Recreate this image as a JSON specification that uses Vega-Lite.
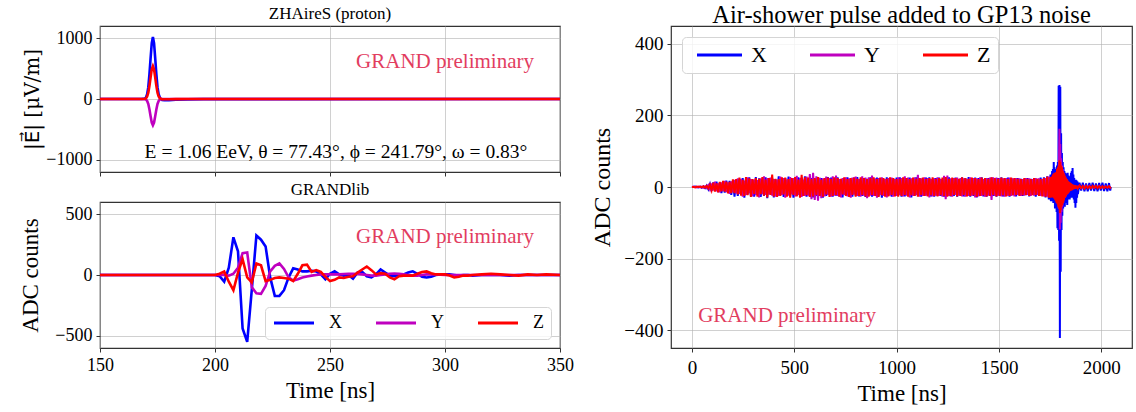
{
"$schema": "https://vega.github.io/schema/vega-lite/v6.json",
"padding": {"left": 18, "top": 2, "right": 0, "bottom": 0},
"background": "white",
"config": {
  "font": "Liberation Serif",
  "view": {"stroke": "#333333", "strokeWidth": 1.2},
  "axis": {"labelFont": "Liberation Serif", "titleFont": "Liberation Serif", "labelFontSize": 18, "titleFontSize": 23, "titleFontWeight": "normal", "labelColor": "#000000", "titleColor": "#000000", "tickColor": "#333333", "tickSize": 4, "domain": false, "gridColor": "#b0b0b0", "gridOpacity": 0.6, "labelPadding": 4, "titlePadding": 5, "format": "d", "labelFlush": false},
  "title": {"font": "Liberation Serif", "fontWeight": "normal", "color": "#000000"},
  "legend": {"labelFont": "Liberation Serif", "labelColor": "#000000", "symbolStrokeWidth": 3, "direction": "horizontal", "columns": 3, "title": null, "strokeColor": "#d5d5d5", "fillColor": "rgba(255,255,255,0.8)", "cornerRadius": 4}
},
"bounds": "full",
"spacing": 14,
"resolve": {"scale": {"color": "independent"}, "legend": {"color": "independent"}},
"hconcat": [
 {
  "bounds": "flush",
  "spacing": 30,
  "resolve": {"scale": {"color": "independent"}, "legend": {"color": "independent"}},
  "vconcat": [
   {
    "width": 460, "height": 146,
    "title": {"text": "ZHAireS (proton)", "fontSize": 17, "offset": 3},
    "layer": [
     {
      "data": {"values": [
       {"t":150,"X":0,"Y":0,"Z":0},{"t":168,"X":0,"Y":0,"Z":0},{"t":169.5,"X":6,"Y":-3,"Z":3},{"t":170,"X":24,"Y":-10,"Z":13},{"t":170.5,"X":78,"Y":-33,"Z":41},{"t":171,"X":194,"Y":-82,"Z":103},{"t":171.5,"X":408,"Y":-172,"Z":216},{"t":172,"X":673,"Y":-284,"Z":356},{"t":172.5,"X":918,"Y":-387,"Z":486},{"t":173,"X":1020,"Y":-430,"Z":540},{"t":173.5,"X":918,"Y":-387,"Z":486},{"t":174,"X":673,"Y":-284,"Z":356},{"t":174.5,"X":408,"Y":-172,"Z":216},{"t":175,"X":194,"Y":-82,"Z":103},{"t":175.5,"X":78,"Y":-33,"Z":41},{"t":176,"X":24,"Y":-10,"Z":13},{"t":176.5,"X":0,"Y":-4,"Z":3},{"t":177,"X":-15,"Y":-2,"Z":-3},{"t":178,"X":-20,"Y":-1,"Z":-4},{"t":180,"X":-18,"Y":0,"Z":-3},{"t":183,"X":-12,"Y":0,"Z":-2},{"t":188,"X":-6,"Y":0,"Z":0},{"t":195,"X":-2,"Y":0,"Z":0},{"t":350,"X":0,"Y":0,"Z":0}
      ]},
      "transform": [{"fold": ["X","Y","Z"], "as": ["ch","v"]}],
      "mark": {"type": "line", "strokeWidth": 2.6},
      "encoding": {
       "x": {"field": "t", "type": "quantitative", "scale": {"domain": [150,350], "nice": false}, "axis": {"values": [150,200,250,300,350], "labels": false, "title": null}},
       "y": {"field": "v", "type": "quantitative", "scale": {"domain": [-1200,1200], "nice": false}, "axis": {"values": [-1000,0,1000], "title": "|E⃗| [μV/m]", "titleFont": "DejaVu Serif, DejaVu Sans", "titleFontSize": 20, "titleX": -58}},
       "color": {"field": "ch", "type": "nominal", "scale": {"domain": ["X","Y","Z"], "range": ["#0000ff","#bf00bf","#ff0000"]}, "legend": null}
      }
     },
     {
      "data": {"values": [{"t": 300, "v": 607, "label": "GRAND preliminary"}]},
      "mark": {"type": "text", "fontSize": 21, "color": "#e23d5f", "font": "Liberation Serif"},
      "encoding": {"x": {"field": "t", "type": "quantitative"}, "y": {"field": "v", "type": "quantitative"}, "text": {"field": "label"}}
     },
     {
      "data": {"values": [{"t": 252.6, "v": -869, "label": "E = 1.06 EeV,  θ = 77.43°,  ϕ = 241.79°,  ω = 0.83°"}]},
      "mark": {"type": "text", "fontSize": 19.5, "color": "#000000", "font": "Liberation Serif"},
      "encoding": {"x": {"field": "t", "type": "quantitative"}, "y": {"field": "v", "type": "quantitative"}, "text": {"field": "label"}}
     }
    ]
   },
   {
    "width": 460, "height": 146,
    "title": {"text": "GRANDlib", "fontSize": 17, "offset": 3},
    "layer": [
     {
      "data": {"values": [
       {"t":150,"X":0,"Y":0,"Z":0},{"t":198,"X":0,"Y":0,"Z":0},{"t":200,"X":0,"Y":0,"Z":0},{"t":202,"X":-10,"Y":0,"Z":10},{"t":204,"X":-55,"Y":0,"Z":28},{"t":206,"X":60,"Y":-5,"Z":-55},{"t":208,"X":310,"Y":10,"Z":-125},{"t":210,"X":195,"Y":60,"Z":20},{"t":212,"X":-440,"Y":180,"Z":130},{"t":214,"X":-550,"Y":185,"Z":-20},{"t":216,"X":-120,"Y":-100,"Z":-60},{"t":218,"X":325,"Y":-150,"Z":95},{"t":220,"X":290,"Y":-155,"Z":80},{"t":222,"X":235,"Y":-90,"Z":-50},{"t":224,"X":-20,"Y":30,"Z":-40},{"t":226,"X":-172,"Y":75,"Z":-25},{"t":228,"X":-172,"Y":95,"Z":-20},{"t":230,"X":-125,"Y":50,"Z":-25},{"t":232,"X":-20,"Y":-20,"Z":-30},{"t":234,"X":55,"Y":-45,"Z":-50},{"t":236,"X":45,"Y":-35,"Z":10},{"t":238,"X":30,"Y":-20,"Z":80},{"t":240,"X":30,"Y":-12,"Z":85},{"t":242,"X":35,"Y":-5,"Z":25},{"t":244,"X":30,"Y":0,"Z":40},{"t":246,"X":5,"Y":5,"Z":25},{"t":248,"X":-35,"Y":5,"Z":-15},{"t":250,"X":10,"Y":5,"Z":-50},{"t":252,"X":30,"Y":5,"Z":-40},{"t":254,"X":5,"Y":5,"Z":-20},{"t":256,"X":-5,"Y":8,"Z":-25},{"t":258,"X":0,"Y":10,"Z":-15},{"t":260,"X":-30,"Y":10,"Z":-10},{"t":262,"X":20,"Y":8,"Z":20},{"t":264,"X":25,"Y":5,"Z":45},{"t":266,"X":-10,"Y":0,"Z":70},{"t":268,"X":-20,"Y":-5,"Z":40},{"t":270,"X":5,"Y":-5,"Z":5},{"t":272,"X":45,"Y":0,"Z":15},{"t":274,"X":20,"Y":5,"Z":10},{"t":276,"X":-5,"Y":10,"Z":-20},{"t":278,"X":-10,"Y":12,"Z":-35},{"t":280,"X":0,"Y":10,"Z":-10},{"t":282,"X":5,"Y":5,"Z":-5},{"t":284,"X":20,"Y":0,"Z":-5},{"t":286,"X":30,"Y":-5,"Z":-5},{"t":288,"X":10,"Y":-5,"Z":10},{"t":290,"X":-15,"Y":0,"Z":25},{"t":292,"X":-20,"Y":5,"Z":30},{"t":294,"X":-15,"Y":5,"Z":15},{"t":296,"X":0,"Y":5,"Z":5},{"t":298,"X":5,"Y":3,"Z":5},{"t":300,"X":5,"Y":0,"Z":5},{"t":302,"X":5,"Y":0,"Z":-5},{"t":304,"X":0,"Y":0,"Z":-20},{"t":306,"X":-5,"Y":0,"Z":-15},{"t":308,"X":0,"Y":0,"Z":-5},{"t":310,"X":0,"Y":0,"Z":-5},{"t":312,"X":-5,"Y":0,"Z":0},{"t":316,"X":0,"Y":0,"Z":5},{"t":320,"X":0,"Y":0,"Z":10},{"t":324,"X":0,"Y":0,"Z":5},{"t":328,"X":-5,"Y":0,"Z":0},{"t":332,"X":0,"Y":0,"Z":-5},{"t":336,"X":0,"Y":0,"Z":5},{"t":340,"X":0,"Y":0,"Z":0},{"t":344,"X":0,"Y":0,"Z":5},{"t":350,"X":0,"Y":0,"Z":0}
      ]},
      "transform": [{"fold": ["X","Y","Z"], "as": ["ch","v"]}],
      "mark": {"type": "line", "strokeWidth": 2.6},
      "encoding": {
       "x": {"field": "t", "type": "quantitative", "scale": {"domain": [150,350], "nice": false}, "axis": {"values": [150,200,250,300,350], "title": "Time [ns]"}},
       "y": {"field": "v", "type": "quantitative", "scale": {"domain": [-600,600], "nice": false}, "axis": {"values": [-500,0,500], "title": "ADC counts", "titleX": -58}},
       "color": {"field": "ch", "type": "nominal", "scale": {"domain": ["X","Y","Z"], "range": ["#0000ff","#bf00bf","#ff0000"]}, "legend": {"orient": "bottom-right", "offset": 9, "symbolType": "M-1.4,0H6.6", "symbolSize": 100, "labelFontSize": 18, "labelOffset": 39, "columnPadding": 28, "padding": 7}}
      }
     },
     {
      "data": {"values": [{"t": 300, "v": 312, "label": "GRAND preliminary"}]},
      "mark": {"type": "text", "fontSize": 21, "color": "#e23d5f", "font": "Liberation Serif"},
      "encoding": {"x": {"field": "t", "type": "quantitative"}, "y": {"field": "v", "type": "quantitative"}, "text": {"field": "label"}}
     }
    ]
   }
  ]
 },
 {
  "width": 461, "height": 322,
  "title": {"text": "Air-shower pulse added to GP13 noise", "fontSize": 24.5, "offset": -2.5},
  "layer": [
   {
    "data": {"values": [
{"t":0,"X":0,"Y":0,"Z":0},{"t":8,"X":0,"Y":1,"Z":0},{"t":16,"X":1,"Y":0,"Z":-1},{"t":24,"X":0,"Y":-1,"Z":1},{"t":32,"X":-1,"Y":1,"Z":0},{"t":40,"X":1,"Y":-1,"Z":1},{"t":48,"X":-2,"Y":1,"Z":-1},{"t":56,"X":2,"Y":-2,"Z":2},{"t":64,"X":-3,"Y":2,"Z":-2},{"t":72,"X":4,"Y":-3,"Z":3},
{"t":80,"X":-6,"Y":5,"Z":-4},{"t":88,"X":8,"Y":-7,"Z":6},{"t":96,"X":-11,"Y":10,"Z":-9},{"t":104,"X":13,"Y":-9,"Z":12},{"t":112,"X":-10,"Y":15,"Z":-13},{"t":120,"X":15,"Y":-12,"Z":10},{"t":128,"X":-14,"Y":10,"Z":-15},{"t":136,"X":12,"Y":-15,"Z":14},{"t":144,"X":-17,"Y":13,"Z":-12},{"t":152,"X":14,"Y":-11,"Z":17},
{"t":160,"X":-16,"Y":17,"Z":-13},{"t":168,"X":18,"Y":-14,"Z":15},{"t":176,"X":-14,"Y":12,"Z":-18},{"t":184,"X":17,"Y":-19,"Z":14},{"t":192,"X":-22,"Y":16,"Z":-17},{"t":200,"X":16,"Y":-14,"Z":21},{"t":208,"X":-27,"Y":20,"Z":-17},{"t":216,"X":20,"Y":-18,"Z":22},{"t":224,"X":-25,"Y":24,"Z":-21},{"t":232,"X":22,"Y":-19,"Z":26},
{"t":240,"X":-20,"Y":23,"Z":-24},{"t":248,"X":25,"Y":-27,"Z":20},{"t":256,"X":-30,"Y":18,"Z":-25},{"t":264,"X":23,"Y":-22,"Z":28},{"t":272,"X":-21,"Y":27,"Z":-23},{"t":280,"X":27,"Y":-17,"Z":24},{"t":288,"X":-24,"Y":22,"Z":-28},{"t":296,"X":19,"Y":-26,"Z":22},{"t":304,"X":-27,"Y":21,"Z":-19},{"t":312,"X":28,"Y":-23,"Z":25},
{"t":320,"X":-22,"Y":19,"Z":-27},{"t":328,"X":24,"Y":-29,"Z":23},{"t":336,"X":-28,"Y":24,"Z":-20},{"t":344,"X":21,"Y":-20,"Z":28},{"t":352,"X":-25,"Y":30,"Z":-24},{"t":360,"X":27,"Y":-22,"Z":21},{"t":368,"X":-31,"Y":25,"Z":-29},{"t":376,"X":23,"Y":-21,"Z":25},{"t":384,"X":-21,"Y":26,"Z":-22},{"t":392,"X":25,"Y":-24,"Z":35},
{"t":400,"X":-29,"Y":22,"Z":-26},{"t":408,"X":22,"Y":-27,"Z":23},{"t":416,"X":-25,"Y":20,"Z":-28},{"t":424,"X":30,"Y":-25,"Z":22},{"t":432,"X":-23,"Y":29,"Z":-25},{"t":440,"X":21,"Y":-22,"Z":27},{"t":448,"X":-28,"Y":25,"Z":-21},{"t":456,"X":25,"Y":-30,"Z":26},{"t":464,"X":-22,"Y":21,"Z":-27},{"t":472,"X":29,"Y":-24,"Z":22},
{"t":480,"X":-26,"Y":28,"Z":-30},{"t":488,"X":23,"Y":-20,"Z":25},{"t":496,"X":-30,"Y":25,"Z":-22},{"t":504,"X":22,"Y":-26,"Z":28},{"t":512,"X":-25,"Y":31,"Z":-26},{"t":520,"X":27,"Y":-22,"Z":21},{"t":528,"X":-21,"Y":25,"Z":-30},{"t":536,"X":26,"Y":-28,"Z":34},{"t":544,"X":-24,"Y":21,"Z":-25},{"t":552,"X":30,"Y":-25,"Z":27},
{"t":560,"X":-27,"Y":29,"Z":-23},{"t":568,"X":22,"Y":-24,"Z":26},{"t":576,"X":-26,"Y":36,"Z":-28},{"t":584,"X":25,"Y":-34,"Z":22},{"t":592,"X":-29,"Y":40,"Z":-26},{"t":600,"X":21,"Y":-36,"Z":25},{"t":608,"X":-25,"Y":30,"Z":-22},{"t":616,"X":27,"Y":-38,"Z":28},{"t":624,"X":-22,"Y":26,"Z":-25},{"t":632,"X":25,"Y":-31,"Z":21},
{"t":640,"X":-30,"Y":24,"Z":-27},{"t":648,"X":22,"Y":-26,"Z":25},{"t":656,"X":-25,"Y":29,"Z":-21},{"t":664,"X":28,"Y":-22,"Z":26},{"t":672,"X":-21,"Y":25,"Z":-28},{"t":680,"X":26,"Y":-27,"Z":22},{"t":688,"X":-27,"Y":30,"Z":-25},{"t":696,"X":23,"Y":-24,"Z":27},{"t":704,"X":-24,"Y":32,"Z":-22},{"t":712,"X":27,"Y":-25,"Z":25},
{"t":720,"X":-26,"Y":22,"Z":-27},{"t":728,"X":22,"Y":-29,"Z":23},{"t":736,"X":-29,"Y":25,"Z":-21},{"t":744,"X":25,"Y":-22,"Z":27},{"t":752,"X":-22,"Y":27,"Z":-25},{"t":760,"X":27,"Y":-26,"Z":22},{"t":768,"X":-25,"Y":24,"Z":-28},{"t":776,"X":21,"Y":-30,"Z":25},{"t":784,"X":-27,"Y":26,"Z":-22},{"t":792,"X":26,"Y":-21,"Z":26},
{"t":800,"X":-24,"Y":29,"Z":-27},{"t":808,"X":28,"Y":-25,"Z":23},{"t":816,"X":-26,"Y":22,"Z":-25},{"t":824,"X":22,"Y":-27,"Z":27},{"t":832,"X":-25,"Y":30,"Z":-22},{"t":840,"X":25,"Y":-24,"Z":25},{"t":848,"X":-28,"Y":26,"Z":-26},{"t":856,"X":23,"Y":-31,"Z":22},{"t":864,"X":-22,"Y":27,"Z":-27},{"t":872,"X":27,"Y":-24,"Z":25},
{"t":880,"X":-27,"Y":32,"Z":-22},{"t":888,"X":22,"Y":-25,"Z":27},{"t":896,"X":-24,"Y":24,"Z":-25},{"t":904,"X":26,"Y":-30,"Z":22},{"t":912,"X":-26,"Y":25,"Z":-28},{"t":920,"X":25,"Y":-22,"Z":26},{"t":928,"X":-30,"Y":27,"Z":-23},{"t":936,"X":21,"Y":-25,"Z":25},{"t":944,"X":-25,"Y":22,"Z":-27},{"t":952,"X":27,"Y":-29,"Z":23},
{"t":960,"X":-22,"Y":25,"Z":-26},{"t":968,"X":25,"Y":-24,"Z":27},{"t":976,"X":-27,"Y":26,"Z":-22},{"t":984,"X":23,"Y":-27,"Z":25},{"t":992,"X":-25,"Y":22,"Z":-26},{"t":1000,"X":26,"Y":-25,"Z":22},{"t":1008,"X":-24,"Y":27,"Z":-27},{"t":1016,"X":27,"Y":-22,"Z":23},{"t":1024,"X":-27,"Y":25,"Z":-25},{"t":1032,"X":22,"Y":-26,"Z":27},
{"t":1040,"X":-26,"Y":30,"Z":-22},{"t":1048,"X":25,"Y":-24,"Z":25},{"t":1056,"X":-22,"Y":26,"Z":-27},{"t":1064,"X":26,"Y":-29,"Z":22},{"t":1072,"X":-29,"Y":24,"Z":-23},{"t":1080,"X":23,"Y":-25,"Z":26},{"t":1088,"X":-25,"Y":27,"Z":-25},{"t":1096,"X":27,"Y":-22,"Z":23},{"t":1104,"X":-24,"Y":34,"Z":-27},{"t":1112,"X":25,"Y":-27,"Z":25},
{"t":1120,"X":-27,"Y":24,"Z":-22},{"t":1128,"X":22,"Y":-25,"Z":26},{"t":1136,"X":-25,"Y":27,"Z":-25},{"t":1144,"X":26,"Y":-24,"Z":22},{"t":1152,"X":-22,"Y":25,"Z":-26},{"t":1160,"X":27,"Y":-29,"Z":25},{"t":1168,"X":-26,"Y":22,"Z":-23},{"t":1176,"X":23,"Y":-26,"Z":27},{"t":1184,"X":-27,"Y":25,"Z":-25},{"t":1192,"X":25,"Y":-24,"Z":22},
{"t":1200,"X":-24,"Y":27,"Z":-26},{"t":1208,"X":26,"Y":-25,"Z":25},{"t":1216,"X":-25,"Y":22,"Z":-23},{"t":1224,"X":22,"Y":-27,"Z":26},{"t":1232,"X":-27,"Y":31,"Z":-25},{"t":1240,"X":25,"Y":-34,"Z":28},{"t":1248,"X":-22,"Y":32,"Z":-27},{"t":1256,"X":27,"Y":-25,"Z":23},{"t":1264,"X":-26,"Y":24,"Z":-25},{"t":1272,"X":23,"Y":-27,"Z":26},
{"t":1280,"X":-25,"Y":25,"Z":-22},{"t":1288,"X":26,"Y":-22,"Z":25},{"t":1296,"X":-27,"Y":26,"Z":-26},{"t":1304,"X":22,"Y":-24,"Z":23},{"t":1312,"X":-24,"Y":25,"Z":-25},{"t":1320,"X":27,"Y":-26,"Z":27},{"t":1328,"X":-26,"Y":24,"Z":-22},{"t":1336,"X":25,"Y":-27,"Z":25},{"t":1344,"X":-22,"Y":22,"Z":-26},{"t":1352,"X":28,"Y":-25,"Z":23},
{"t":1360,"X":-27,"Y":27,"Z":-25},{"t":1368,"X":23,"Y":-24,"Z":26},{"t":1376,"X":-25,"Y":25,"Z":-23},{"t":1384,"X":26,"Y":-29,"Z":25},{"t":1392,"X":-29,"Y":24,"Z":-27},{"t":1400,"X":25,"Y":-26,"Z":22},{"t":1408,"X":-24,"Y":27,"Z":-25},{"t":1416,"X":27,"Y":-25,"Z":26},{"t":1424,"X":-26,"Y":22,"Z":-23},{"t":1432,"X":22,"Y":-27,"Z":25},
{"t":1440,"X":-27,"Y":25,"Z":-26},{"t":1448,"X":25,"Y":-24,"Z":23},{"t":1456,"X":-24,"Y":26,"Z":-25},{"t":1464,"X":26,"Y":-36,"Z":27},{"t":1472,"X":-25,"Y":27,"Z":-22},{"t":1480,"X":23,"Y":-25,"Z":25},{"t":1488,"X":-27,"Y":26,"Z":-26},{"t":1496,"X":25,"Y":-24,"Z":23},{"t":1504,"X":-24,"Y":25,"Z":-25},{"t":1512,"X":27,"Y":-26,"Z":26},
{"t":1520,"X":-26,"Y":24,"Z":-23},{"t":1528,"X":23,"Y":-27,"Z":25},{"t":1536,"X":-25,"Y":25,"Z":-26},{"t":1544,"X":26,"Y":-24,"Z":22},{"t":1552,"X":-27,"Y":26,"Z":-25},{"t":1560,"X":25,"Y":-25,"Z":26},{"t":1568,"X":-23,"Y":24,"Z":-23},{"t":1576,"X":22,"Y":-26,"Z":25},{"t":1584,"X":-26,"Y":25,"Z":-22},{"t":1592,"X":25,"Y":-22,"Z":23},
{"t":1600,"X":-22,"Y":24,"Z":-25},{"t":1608,"X":23,"Y":-25,"Z":22},{"t":1616,"X":-25,"Y":22,"Z":-23},{"t":1624,"X":22,"Y":-24,"Z":25},{"t":1632,"X":-23,"Y":25,"Z":-22},{"t":1640,"X":25,"Y":-22,"Z":23},{"t":1648,"X":-26,"Y":24,"Z":-25},{"t":1656,"X":23,"Y":-25,"Z":22},{"t":1664,"X":-22,"Y":22,"Z":-23},{"t":1672,"X":25,"Y":-24,"Z":25},
{"t":1680,"X":-27,"Y":25,"Z":-22},{"t":1688,"X":23,"Y":-22,"Z":23},{"t":1696,"X":-25,"Y":24,"Z":-25},{"t":1704,"X":26,"Y":-25,"Z":22},{"t":1712,"X":-23,"Y":22,"Z":-26},{"t":1720,"X":27,"Y":-26,"Z":25},{"t":1728,"X":-29,"Y":25,"Z":-27},{"t":1736,"X":30,"Y":-27,"Z":29},{"t":1744,"X":-35,"Y":29,"Z":-30},
{"t":1752,"X":35,"Y":-20,"Z":28},{"t":1754,"X":-40,"Y":25,"Z":-30},{"t":1756,"X":30,"Y":-22,"Z":25},{"t":1758,"X":-35,"Y":20,"Z":-28},{"t":1760,"X":45,"Y":-25,"Z":30},{"t":1762,"X":-40,"Y":28,"Z":-25},{"t":1764,"X":50,"Y":-22,"Z":35},{"t":1766,"X":-45,"Y":30,"Z":-30},{"t":1768,"X":70,"Y":-25,"Z":38},{"t":1770,"X":-45,"Y":35,"Z":-32},
{"t":1772,"X":55,"Y":-30,"Z":40},{"t":1774,"X":-60,"Y":32,"Z":-35},{"t":1776,"X":50,"Y":-35,"Z":38},{"t":1778,"X":-55,"Y":30,"Z":-40},{"t":1780,"X":45,"Y":-40,"Z":42},{"t":1782,"X":-70,"Y":38,"Z":-45},{"t":1784,"X":60,"Y":-35,"Z":50},{"t":1786,"X":-115,"Y":40,"Z":-48},{"t":1788,"X":70,"Y":-45,"Z":55},{"t":1790,"X":-120,"Y":50,"Z":-55},
{"t":1792,"X":283,"Y":-60,"Z":60},{"t":1794,"X":-150,"Y":90,"Z":-60},{"t":1796,"X":285,"Y":163,"Z":75},{"t":1798,"X":-422,"Y":-119,"Z":-73},{"t":1800,"X":280,"Y":120,"Z":70},{"t":1802,"X":-237,"Y":-100,"Z":-65},{"t":1804,"X":150,"Y":80,"Z":60},{"t":1806,"X":-120,"Y":-70,"Z":-55},{"t":1808,"X":95,"Y":60,"Z":55},{"t":1810,"X":-80,"Y":-55,"Z":-50},
{"t":1812,"X":70,"Y":50,"Z":45},{"t":1814,"X":-60,"Y":-45,"Z":-45},{"t":1816,"X":55,"Y":40,"Z":40},{"t":1818,"X":-50,"Y":-35,"Z":-38},{"t":1820,"X":45,"Y":30,"Z":35},{"t":1822,"X":-55,"Y":-30,"Z":-30},{"t":1824,"X":40,"Y":28,"Z":30},{"t":1826,"X":-45,"Y":-25,"Z":-28},{"t":1828,"X":38,"Y":22,"Z":25},{"t":1830,"X":-40,"Y":-20,"Z":-22},
{"t":1832,"X":35,"Y":20,"Z":22},{"t":1834,"X":-50,"Y":-18,"Z":-20},{"t":1836,"X":40,"Y":15,"Z":18},{"t":1838,"X":-35,"Y":-15,"Z":-18},{"t":1840,"X":32,"Y":12,"Z":15},{"t":1842,"X":-30,"Y":-12,"Z":-15},{"t":1844,"X":28,"Y":10,"Z":14},{"t":1846,"X":-35,"Y":-10,"Z":-12},{"t":1848,"X":30,"Y":10,"Z":12},{"t":1850,"X":-28,"Y":-8,"Z":-10},
{"t":1852,"X":40,"Y":8,"Z":10},{"t":1854,"X":-30,"Y":-8,"Z":-10},{"t":1856,"X":45,"Y":6,"Z":8},{"t":1858,"X":-25,"Y":-6,"Z":-8},{"t":1860,"X":53,"Y":5,"Z":7},{"t":1862,"X":-30,"Y":-5,"Z":-7},{"t":1864,"X":35,"Y":5,"Z":6},{"t":1866,"X":-35,"Y":-5,"Z":-6},{"t":1868,"X":25,"Y":4,"Z":5},{"t":1870,"X":-45,"Y":-4,"Z":-5},
{"t":1872,"X":20,"Y":4,"Z":5},{"t":1874,"X":-58,"Y":-4,"Z":-5},{"t":1876,"X":20,"Y":3,"Z":4},{"t":1878,"X":-45,"Y":-3,"Z":-4},{"t":1880,"X":18,"Y":3,"Z":4},{"t":1882,"X":-30,"Y":-3,"Z":-4},{"t":1884,"X":15,"Y":2,"Z":3},{"t":1886,"X":-20,"Y":-2,"Z":-3},
{"t":1894,"X":12,"Y":3,"Z":4},{"t":1902,"X":-10,"Y":-3,"Z":-3},{"t":1910,"X":12,"Y":2,"Z":3},{"t":1918,"X":-12,"Y":-3,"Z":-4},{"t":1926,"X":10,"Y":3,"Z":3},{"t":1934,"X":-12,"Y":-2,"Z":-3},{"t":1942,"X":11,"Y":3,"Z":2},{"t":1950,"X":-10,"Y":-2,"Z":-3},{"t":1958,"X":12,"Y":2,"Z":3},{"t":1966,"X":-11,"Y":-3,"Z":-2},
{"t":1974,"X":10,"Y":2,"Z":3},{"t":1982,"X":-12,"Y":-2,"Z":-3},{"t":1990,"X":11,"Y":3,"Z":2},{"t":1998,"X":-10,"Y":-2,"Z":-3},{"t":2006,"X":12,"Y":2,"Z":2},{"t":2014,"X":-11,"Y":-2,"Z":-3},{"t":2022,"X":10,"Y":2,"Z":2},{"t":2030,"X":-12,"Y":-2,"Z":-2},{"t":2038,"X":11,"Y":2,"Z":2},{"t":2044,"X":-10,"Y":-1,"Z":-2},{"t":2047,"X":0,"Y":0,"Z":0}
    ]},
    "transform": [{"fold": ["X","Y","Z"], "as": ["ch","v"]}],
    "mark": {"type": "line", "strokeWidth": 2},
    "encoding": {
     "x": {"field": "t", "type": "quantitative", "scale": {"domain": [-102.4,2150.4], "nice": false, "zero": false}, "axis": {"values": [0,500,1000,1500,2000], "title": "Time [ns]", "labelFontSize": 19, "labelPadding": 6}},
     "y": {"field": "v", "type": "quantitative", "scale": {"domain": [-450,450], "nice": false}, "axis": {"values": [-400,-200,0,200,400], "title": "ADC counts", "titleFontSize": 24, "labelFontSize": 19, "titleX": -57}},
     "color": {"field": "ch", "type": "nominal", "scale": {"domain": ["X","Y","Z"], "range": ["#0000ff","#bf00bf","#ff0000"]}, "legend": {"orient": "top-left", "offset": 11, "symbolType": "M-0.6,0H8.4", "symbolSize": 100, "labelFontSize": 22, "labelOffset": 40, "columnPadding": 35, "padding": 7}}
    }
   },
   {
    "data": {"values": [{"t": 465, "v": -361, "label": "GRAND preliminary"}]},
    "mark": {"type": "text", "fontSize": 21, "color": "#e23d5f", "font": "Liberation Serif"},
    "encoding": {"x": {"field": "t", "type": "quantitative"}, "y": {"field": "v", "type": "quantitative"}, "text": {"field": "label"}}
   }
  ]
 }
]
}
